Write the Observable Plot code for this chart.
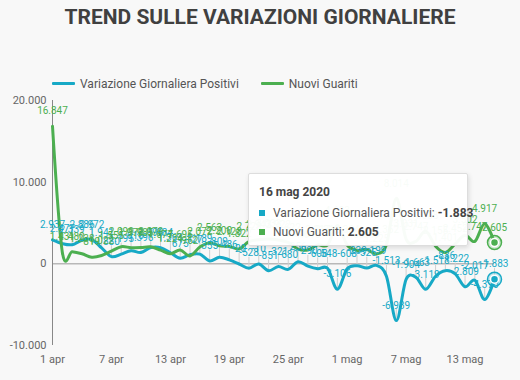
<!DOCTYPE html>
<html><head><meta charset="utf-8">
<script src="https://cdn.jsdelivr.net/npm/d3@7"></script>
<script src="https://cdn.jsdelivr.net/npm/@observablehq/plot@0.6"></script>
<style>
body{margin:0;background:#f8f8f8;font-family:Roboto,"Noto Sans",sans-serif;}
#wrap{position:relative;width:520px;height:380px;background:#f8f8f8;overflow:hidden}
#title{position:absolute;top:3px;left:0;width:520px;text-align:center;font-weight:700;font-size:21px;line-height:28px;color:#404040;}
#legend{position:absolute;top:76px;left:52px;font-size:12px;color:#555;line-height:16px;white-space:nowrap}
#legend .it{display:inline-block;margin-right:22px}
#legend .sw{display:inline-block;width:23px;height:3px;vertical-align:middle;margin-right:5px;border-radius:1px;position:relative;top:-1px}
#chart{position:absolute;left:0;top:90px}
#tip{position:absolute;left:248px;top:173px;width:220px;height:73px;box-sizing:border-box;background:rgba(255,255,255,0.96);border:1px solid #ddd;box-shadow:1px 2px 5px rgba(0,0,0,.12);font-size:12px;color:#555;border-radius:2px}
#tip .h{position:absolute;left:10px;top:11px;font-weight:700;color:#444}
#tip .r{position:absolute;left:10px;white-space:nowrap}
#tip .sq{display:inline-block;width:6px;height:6px;margin-right:8px;vertical-align:middle;position:relative;top:-1px}
#tip b{color:#444}
</style></head>
<body>
<div id="wrap">
  <div id="title"></div>
  <div id="legend"></div>
  <div id="chart"></div>
  <div id="tip"></div>
</div>
<script>
const title = "TREND SULLE VARIAZIONI GIORNALIERE";
const seriesNames = ["Variazione Giornaliera Positivi", "Nuovi Guariti"];
const seriesColors = ["#17a9c6", "#4caf50"];
const dates = [
 "2020-04-01","2020-04-02","2020-04-03","2020-04-04","2020-04-05","2020-04-06","2020-04-07","2020-04-08","2020-04-09","2020-04-10",
 "2020-04-11","2020-04-12","2020-04-13","2020-04-14","2020-04-15","2020-04-16","2020-04-17","2020-04-18","2020-04-19","2020-04-20",
 "2020-04-21","2020-04-22","2020-04-23","2020-04-24","2020-04-25","2020-04-26","2020-04-27","2020-04-28","2020-04-29","2020-04-30",
 "2020-05-01","2020-05-02","2020-05-03","2020-05-04","2020-05-05","2020-05-06","2020-05-07","2020-05-08","2020-05-09","2020-05-10",
 "2020-05-11","2020-05-12","2020-05-13","2020-05-14","2020-05-15","2020-05-16"];
const positivi = [2937,2477,2339,2886,2972,1941,880,1195,1615,1396,
 1996,1984,1363,675,1127,1189,355,809,486,-20,
 -528,-10,-851,-321,-680,256,-290,-608,-548,-3106,
 -608,-239,-525,-199,-1513,-6939,-1904,-1663,-3119,-1518,
 -836,-1222,-2809,-2017,-4370,-1883];
const guariti = [16847,1431,1480,1238,819,1022,1555,2099,1979,1985,
 2079,1677,1224,1695,962,2072,2563,2200,2128,1822,
 2723,2943,3033,2922,2622,1808,1696,2317,2311,4693,
 2304,1665,1740,1225,2352,8014,3031,2747,4008,2155,
 1401,2452,3502,2747,4917,2605];
const yTicks = [-10000, 0, 10000, 20000];
const xTicks = ["2020-04-01","2020-04-07","2020-04-13","2020-04-19","2020-04-25","2020-05-01","2020-05-07","2020-05-13"];
const mesi = ["gen","feb","mar","apr","mag","giu","lug","ago","set","ott","nov","dic"];
const tipDate = "16 mag 2020";

const loc = d3.formatLocale({decimal: ",", thousands: ".", grouping: [3], currency: ["€", ""], minus: "-"});
const fmt = loc.format(",d");
const fmtDate = d => `${d.getUTCDate()} ${mesi[d.getUTCMonth()]}`;

const D = dates.map(s => new Date(s));
const rows = [];
seriesNames.forEach((name, si) => {
  const vals = si === 0 ? positivi : guariti;
  vals.forEach((v, i) => rows.push({date: D[i], value: v, series: name}));
});
const posRows = rows.filter(r => r.series === seriesNames[0]);
const last = rows.filter(r => +r.date === +D[D.length - 1]);

document.getElementById("title").textContent = title;
document.getElementById("legend").innerHTML = seriesNames.map((n, i) =>
  `<span class="it"><span class="sw" style="background:${seriesColors[i]}"></span>${n}</span>`).join("");

const color = {domain: seriesNames, range: seriesColors};
const spike = {draw(ctx, l) { ctx.moveTo(0, 0); ctx.lineTo(0, -l); }};

const chart = Plot.plot({
  width: 520, height: 290,
  marginLeft: 52, marginRight: 26, marginTop: 10, marginBottom: 35,
  style: {background: "transparent", fontFamily: "Roboto, 'Noto Sans', sans-serif", fontSize: "11px", color: "#666"},
  x: {type: "utc", domain: [D[0], D[D.length - 1]], label: null},
  y: {domain: [-10000, 20000], label: null},
  color,
  marks: [
    Plot.ruleY([0], {stroke: "#999", strokeWidth: 1}),
    Plot.ruleX([D[0]], {stroke: "#888", strokeWidth: 1}),
    Plot.vector(posRows, {x: "date", y: "value", length: 11, rotate: 0, anchor: "start", shape: spike, stroke: "#cfcfcf", strokeWidth: 1}),
    Plot.line(rows, {x: "date", y: "value", z: "series", stroke: "series", strokeWidth: 3, curve: "cardinal"}),
    Plot.text(rows, {x: "date", y: "value", text: d => fmt(d.value), fill: "series", dy: -15, fontSize: 10}),
    Plot.dot(last, {x: "date", y: "value", r: 7, fill: "series", fillOpacity: 0.25, stroke: "series", strokeWidth: 1.5}),
    Plot.dot(last, {x: "date", y: "value", r: 4, fill: "series", stroke: "white", strokeWidth: 1.5}),
    Plot.axisY({ticks: yTicks, tickFormat: fmt, tickSize: 0, tickPadding: 6, fontSize: 11, label: null}),
    Plot.axisX({ticks: xTicks.map(s => new Date(s)), tickFormat: fmtDate, tickSize: 0, tickPadding: 10, fontSize: 11, label: null})
  ]
});
document.getElementById("chart").appendChild(chart);

const lastP = positivi[positivi.length - 1], lastG = guariti[guariti.length - 1];
document.getElementById("tip").innerHTML =
  `<div class="h">${tipDate}</div>` +
  `<div class="r" style="top:32px"><span class="sq" style="background:${seriesColors[0]}"></span>${seriesNames[0]}: <b>${fmt(lastP)}</b></div>` +
  `<div class="r" style="top:51px"><span class="sq" style="background:${seriesColors[1]}"></span>${seriesNames[1]}: <b>${fmt(lastG)}</b></div>`;
</script>
</body></html>
